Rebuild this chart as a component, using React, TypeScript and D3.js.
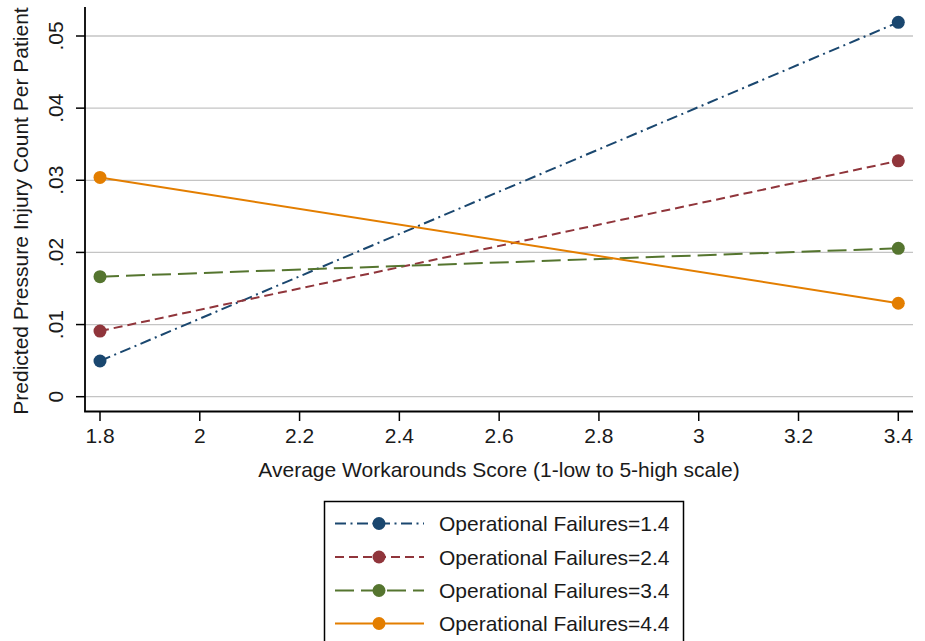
import React from "react";
import * as d3 from "d3";

const xValues = [1.8, 3.4];
const seriesNames = [
  "Operational Failures=1.4",
  "Operational Failures=2.4",
  "Operational Failures=3.4",
  "Operational Failures=4.4",
];
const seriesValues = [
  [0.00495, 0.0519],
  [0.0091, 0.0327],
  [0.01664, 0.02057],
  [0.0304, 0.01295],
];
const seriesColors = ["#1a476f", "#90353b", "#55752f", "#e37e00"];
const seriesDash = ["11,4.5,2,4.5", "9,5", "19,7", ""];
const xTicks = [1.8, 2, 2.2, 2.4, 2.6, 2.8, 3, 3.2, 3.4];
const yTicks = [0, 0.01, 0.02, 0.03, 0.04, 0.05];
const yTickLabels = ["0", ".01", ".02", ".03", ".04", ".05"];

const W = 925;
const H = 641;
const left = 85;
const right = 913;
const top = 7;
const bottom = 411.5;
const FONT = "'Liberation Sans', Arial, Helvetica, sans-serif";
const FS = 21;
const SW = 2;

export default function App() {
  const x = d3.scaleLinear().domain([1.8, 3.4]).range([100, 898.3]);
  const y = d3.scaleLinear().domain([0, 0.05]).range([396.7, 36]);
  const line = d3
    .line<[number, number]>()
    .x((d) => x(d[0]))
    .y((d) => y(d[1]));

  const legX = 324.5;
  const legY = 501.5;
  const legW = 359;
  const rowY = [523.5, 557, 590.5, 623.5];

  return (
    <svg
      width={W}
      height={H}
      style={{ position: "absolute", left: 0, top: 0, background: "#fff" }}
      fontFamily={FONT}
    >
      <rect x={0} y={0} width={W} height={H} fill="#fff" />
      {yTicks.map((t) => (
        <line
          key={"g" + t}
          x1={left}
          x2={right}
          y1={y(t)}
          y2={y(t)}
          stroke="#c4c4c4"
          strokeWidth={1.3}
        />
      ))}
      <line x1={left} x2={left} y1={top} y2={bottom} stroke="#000" strokeWidth={1.8} />
      <line x1={left - 0.9} x2={right} y1={bottom} y2={bottom} stroke="#000" strokeWidth={1.8} />
      {yTicks.map((t, i) => (
        <g key={"yt" + t}>
          <line x1={left - 9} x2={left} y1={y(t)} y2={y(t)} stroke="#000" strokeWidth={1.5} />
          <text
            transform={`translate(62.5,${y(t)}) rotate(-90)`}
            textAnchor="middle"
            fontSize={FS}
            fill="#1a1a1a"
          >
            {yTickLabels[i]}
          </text>
        </g>
      ))}
      {xTicks.map((t) => (
        <g key={"xt" + t}>
          <line x1={x(t)} x2={x(t)} y1={bottom} y2={bottom + 9.5} stroke="#000" strokeWidth={1.5} />
          <text x={x(t)} y={443} textAnchor="middle" fontSize={FS} fill="#1a1a1a">
            {d3.format("")(t)}
          </text>
        </g>
      ))}
      <text x={499} y={476.5} textAnchor="middle" fontSize={FS} fill="#1a1a1a">
        Average Workarounds Score (1-low to 5-high scale)
      </text>
      <text
        transform={`translate(28,211) rotate(-90)`}
        textAnchor="middle"
        fontSize={FS}
        fill="#1a1a1a"
      >
        Predicted Pressure Injury Count Per Patient
      </text>
      {seriesValues.map((vals, i) => {
        const pts: [number, number][] = vals.map((v, j) => [xValues[j], v]);
        return (
          <g key={"s" + i}>
            <path
              d={line(pts) || ""}
              fill="none"
              stroke={seriesColors[i]}
              strokeWidth={SW}
              strokeDasharray={seriesDash[i] || undefined}
            />
            {pts.map((p, j) => (
              <circle key={j} cx={x(p[0])} cy={y(p[1])} r={6.5} fill={seriesColors[i]} />
            ))}
          </g>
        );
      })}
      <rect
        x={legX}
        y={legY}
        width={legW}
        height={H + 20 - legY}
        fill="#fff"
        stroke="#000"
        strokeWidth={1.5}
      />
      {seriesNames.map((name, i) => (
        <g key={"l" + i}>
          <line
            x1={335}
            x2={424}
            y1={rowY[i]}
            y2={rowY[i]}
            stroke={seriesColors[i]}
            strokeWidth={SW}
            strokeDasharray={seriesDash[i] || undefined}
          />
          <circle cx={379} cy={rowY[i]} r={6.5} fill={seriesColors[i]} />
          <text x={439} y={rowY[i] + 7.5} fontSize={FS} fill="#1a1a1a">
            {name}
          </text>
        </g>
      ))}
    </svg>
  );
}
